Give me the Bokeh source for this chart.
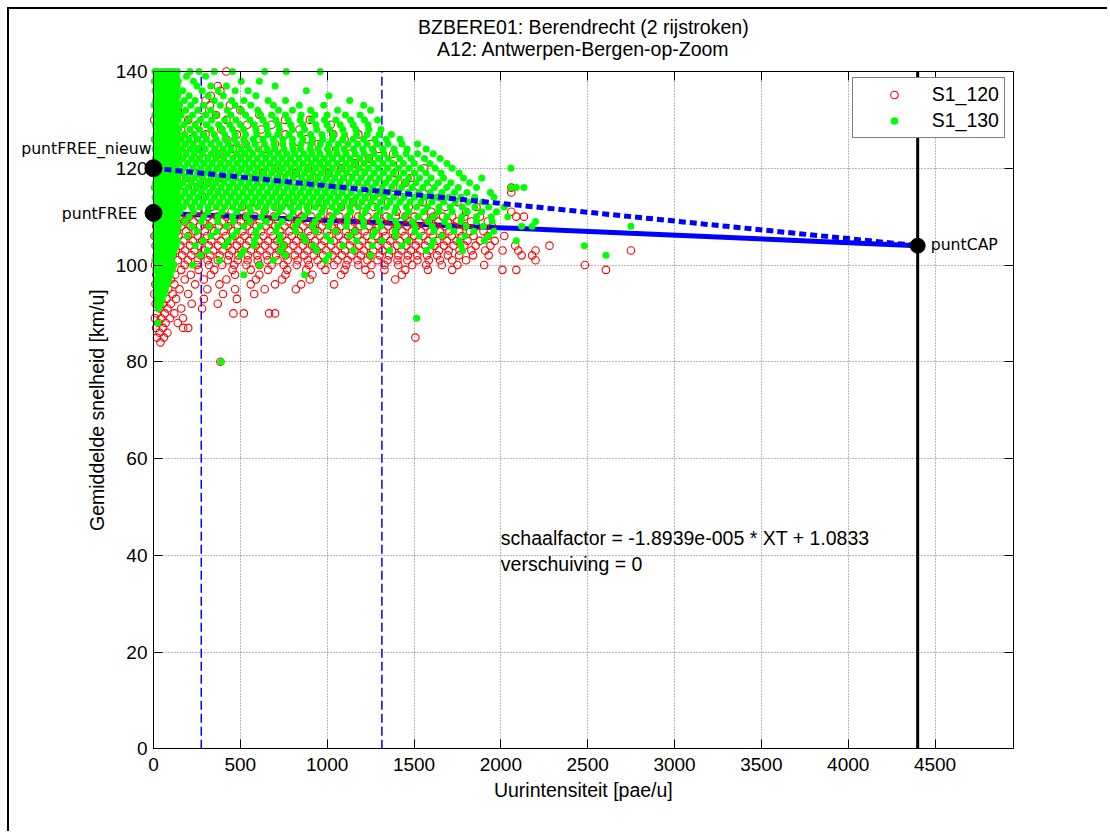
from bokeh.plotting import figure
from bokeh.models import (Range1d, LinearAxis, FixedTicker, Label, Legend,
                          LegendItem, CustomJSTickFormatter, BoxAnnotation)
from bokeh.core.properties import value
from bokeh.embed import file_html
from bokeh.resources import INLINE

# ---------------- texts / axes ----------------
title_line1 = "BZBERE01: Berendrecht (2 rijstroken)"
title_line2 = "A12: Antwerpen-Bergen-op-Zoom"
x_label = "Uurintensiteit [pae/u]"
y_label = "Gemiddelde snelheid [km/u]"
x_ticks = [0, 500, 1000, 1500, 2000, 2500, 3000, 3500, 4000, 4500]
y_ticks = [0, 20, 40, 60, 80, 100, 120, 140]
x_limits = (0, 4950)
y_limits = (0, 140)

# ---------------- key points ----------------
free_speed = 110.77        # puntFREE
free_new_speed = 120.0     # puntFREE_nieuw
cap_flow = 4400            # puntCAP
cap_speed = 104.0
band_flows = [275, 1315]   # dashed vertical lines
formula_x = 2000
formula_y = 40
formula_lines = ["schaalfactor = -1.8939e-005 * XT + 1.0833", "verschuiving = 0"]

# ---------------- S1_120 (red circles): (speed, [flows]) ----------------
s120_rows = [
    (140, [419]),
    (137, [370, 129]),
    (136, [95, 385]),
    (135, [60, 130, 330]),
    (134, [40, 110, 300]),
    (133, [20, 90, 325, 440]),
    (132, [75, 140, 280, 500]),
    (131, [30, 120, 360, 610]),
    (130, [4, 55, 200, 420, 757, 900]),
    (129, [15, 100, 250, 540, 680, 1020]),
    (128, [70, 160, 390, 620, 840]),
    (127, [35, 130, 300, 480, 760, 1035, 1180]),
    (126, [10, 90, 215, 420, 600, 880, 1100]),
    (125, [60, 145, 350, 530, 700, 950, 1250]),
    (124, [25, 110, 270, 455, 640, 820, 1010, 1300]),
    (123, [80, 180, 380, 560, 740, 930, 1130, 1380]),
    (122, [45, 130, 300, 490, 660, 860, 1060, 1240]),
    (121, [15, 100, 230, 410, 590, 780, 970, 1160, 1420]),
    (120, [65, 150, 340, 520, 700, 890, 1080, 1270, 1559]),
    (119, [30, 120, 260, 450, 630, 820, 1010, 1200, 1390]),
    (118, [85, 190, 380, 560, 750, 940, 1130, 1330, 1480]),
    (117, [50, 140, 310, 490, 680, 870, 1060, 1250, 1450]),
    (116, [20, 105, 240, 420, 610, 800, 990, 1180, 1380, 1580, 2060]),
    (115, [70, 170, 360, 540, 730, 920, 1110, 1300, 1500, 2060]),
    (114, [35, 125, 290, 470, 660, 850, 1040, 1230, 1430, 1650]),
    (113, [90, 210, 400, 580, 770, 960, 1150, 1350, 1550, 1750]),
    (112, [55, 145, 330, 510, 700, 890, 1080, 1270, 1470, 1680, 1860]),
    (111, [20, 110, 260, 450, 640, 830, 1020, 1210, 1400, 1600, 1800, 2060]),
    (110, [8, 52, 97, 150, 205, 258, 312, 367, 420, 476, 529, 584, 637, 692, 745, 801,
           853, 908, 962, 1016, 1071, 1124, 1179, 1232, 1287, 1341, 1396, 1449, 1503,
           1558, 1612, 1667, 1720, 1790, 1880, 2089, 2133]),
    (109, [30, 75, 122, 178, 231, 286, 339, 394, 448, 503, 556, 611, 664, 719, 773, 827,
           881, 935, 989, 1044, 1097, 1152, 1206, 1260, 1314, 1368, 1423, 1477, 1531,
           1585, 1640, 1694, 1748, 1830, 1925]),
    (108, [15, 60, 105, 160, 213, 268, 321, 376, 430, 485, 538, 593, 646, 701, 755, 809,
           863, 917, 971, 1026, 1080, 1134, 1188, 1242, 1296, 1351, 1405, 1459, 1513,
           1568, 1622, 1676, 1731, 1795, 1860, 1950]),
    (107, [38, 84, 135, 188, 242, 295, 350, 404, 458, 512, 566, 620, 675, 729, 783, 837,
           891, 945, 1000, 1054, 1108, 1162, 1216, 1270, 1324, 1379, 1433, 1487, 1541,
           1595, 1650, 1704, 1760, 1822, 1900]),
    (106, [5, 48, 95, 145, 200, 255, 308, 362, 416, 470, 525, 579, 633, 687, 741, 796,
           850, 904, 958, 1012, 1067, 1121, 1175, 1229, 1283, 1337, 1392, 1446, 1500,
           1554, 1608, 1663, 1717, 1775, 1843, 1925, 2020]),
    (105, [25, 70, 118, 172, 226, 280, 334, 388, 442, 497, 551, 605, 659, 713, 767, 822,
           876, 930, 984, 1038, 1093, 1147, 1201, 1255, 1309, 1363, 1418, 1472, 1526,
           1580, 1634, 1689, 1745, 1808, 1880, 1965]),
    (104, [12, 55, 102, 155, 210, 264, 318, 372, 426, 480, 535, 589, 643, 697, 751, 806,
           860, 914, 968, 1022, 1077, 1131, 1185, 1239, 1293, 1347, 1402, 1456, 1510,
           1564, 1618, 1673, 1727, 1790, 1855, 1940, 2083, 2280]),
    (103, [33, 80, 128, 182, 236, 290, 344, 398, 452, 507, 561, 615, 669, 723, 777, 832,
           886, 940, 994, 1048, 1103, 1157, 1211, 1265, 1319, 1373, 1428, 1482, 1536,
           1590, 1644, 1700, 1762, 1830, 1910, 2010, 2100, 2200, 2749]),
    (102, [18, 62, 110, 165, 218, 272, 327, 381, 435, 489, 543, 598, 652, 706, 760, 814,
           869, 923, 977, 1031, 1085, 1140, 1194, 1248, 1302, 1356, 1410, 1465, 1519,
           1575, 1633, 1695, 1760, 1840, 1930, 2120, 2180]),
    (101, [40, 88, 140, 198, 255, 312, 370, 428, 485, 542, 600, 658, 715, 772, 830, 888,
           945, 1002, 1060, 1118, 1175, 1232, 1290, 1348, 1405, 1462, 1520, 1585, 1650,
           1720, 1800, 2200]),
    (100, [8, 55, 112, 180, 250, 320, 395, 465, 535, 610, 680, 750, 825, 895, 965, 1040,
           1110, 1180, 1255, 1330, 1410, 1490, 1570, 1660, 1750, 1904, 2484]),
    (99, [30, 90, 160, 260, 350, 455, 560, 660, 770, 880, 990, 1100, 1220, 1330, 1450,
          1580, 1720, 2009, 2089, 2605]),
    (98, [15, 70, 125, 215, 330, 470, 610, 760, 915, 1080, 1250, 1430]),
    (97, [40, 100, 180, 290, 420, 590, 740, 900, 1392]),
    (96, [10, 60, 120, 240, 380, 560, 700, 850, 1040]),
    (95, [30, 85, 150, 310, 470, 640, 820]),
    (94, [5, 50, 110, 200, 400, 580]),
    (93, [25, 75, 130, 290, 480]),
    (92, [12, 55, 100, 220, 370]),
    (91, [35, 80, 160, 280]),
    (90, [20, 65, 120, 460, 520, 666, 700]),
    (89, [8, 45, 95, 170]),
    (88, [28, 70, 140]),
    (87, [15, 55, 171, 200]),
    (86, [35, 80]),
    (85, [20, 60, 1508]),
    (84, [40]),
    (80, [385]),
]

# ---------------- S1_130 (green dots): (speed, [flows]) ----------------
s130_rows = [
    (140, [8, 27, 52, 74, 96, 118, 138, 210, 262, 350, 455, 640, 765, 960]),
    (139, [15, 38, 61, 85, 110, 132, 190, 300]),
    (138, [5, 28, 50, 72, 97, 121, 143, 230, 505, 610]),
    (137, [18, 41, 66, 88, 113, 136, 250, 330, 420, 700]),
    (136, [9, 33, 57, 80, 104, 127, 168, 280, 372, 470, 545, 880]),
    (135, [22, 45, 70, 92, 116, 140, 205, 315, 402, 590, 1010]),
    (134, [12, 36, 60, 83, 107, 130, 178, 240, 350, 450, 520, 660, 760, 1130]),
    (133, [4, 27, 51, 75, 98, 122, 150, 215, 290, 385, 470, 560, 690, 840, 980, 1210]),
    (132, [17, 42, 66, 90, 113, 138, 185, 255, 330, 425, 505, 600, 720, 800, 905, 1060, 1250]),
    (131, [8, 31, 55, 79, 103, 127, 160, 225, 300, 360, 445, 530, 615, 680, 760, 850, 930,
           1000, 1105, 1190]),
    (130, [20, 44, 68, 92, 117, 141, 200, 270, 335, 410, 475, 555, 630, 705, 775, 845, 910,
           985, 1050, 1135, 1215, 1290]),
    (129, [10, 34, 58, 82, 106, 130, 175, 240, 305, 375, 440, 500, 580, 650, 720, 790, 860,
           935, 1000, 1075, 1150, 1235]),
    (128, [24, 48, 72, 95, 120, 145, 210, 265, 330, 395, 455, 520, 590, 655, 725, 800, 870,
           940, 1015, 1090, 1165, 1240, 1310]),
    (127, [14, 38, 62, 86, 110, 134, 180, 235, 290, 350, 410, 470, 530, 595, 660, 715, 780,
           845, 905, 970, 1035, 1100, 1170, 1230, 1300, 1370]),
    (126, [5, 28, 52, 76, 100, 124, 160, 205, 255, 305, 360, 415, 465, 520, 575, 630, 690,
           745, 800, 860, 915, 975, 1030, 1090, 1150, 1210, 1275, 1340, 1420]),
    (125, [18, 42, 66, 90, 114, 138, 185, 230, 280, 330, 380, 430, 480, 535, 585, 640, 695,
           745, 800, 850, 905, 960, 1010, 1065, 1120, 1175, 1230, 1290, 1350, 1430, 1520]),
    (124, [9, 33, 57, 81, 105, 129, 165, 212, 253, 298, 352, 401, 447, 503, 548, 602, 655,
           697, 751, 804, 846, 903, 948, 1002, 1051, 1098, 1152, 1205, 1260, 1320, 1385,
           1460, 1570]),
    (123, [22, 46, 70, 94, 118, 142, 188, 236, 281, 333, 377, 426, 478, 524, 571, 623, 668,
           719, 767, 812, 866, 911, 958, 1012, 1057, 1108, 1161, 1214, 1268, 1327, 1392,
           1455, 1520, 1610]),
    (122, [11, 35, 59, 83, 107, 131, 171, 219, 263, 312, 359, 404, 457, 503, 549, 598, 646,
           694, 742, 789, 838, 887, 934, 983, 1031, 1084, 1133, 1187, 1241, 1296, 1352,
           1418, 1483, 1560, 1650]),
    (121, [3, 27, 51, 75, 99, 123, 147, 196, 244, 292, 338, 386, 433, 481, 527, 575, 622,
           671, 718, 766, 813, 861, 909, 957, 1006, 1056, 1109, 1158, 1212, 1266, 1321,
           1378, 1439, 1502, 1591, 1690]),
    (120, [16, 40, 64, 88, 112, 136, 178, 226, 272, 318, 366, 412, 460, 506, 553, 601, 649,
           696, 744, 791, 839, 886, 934, 981, 1030, 1081, 1131, 1184, 1238, 1293, 1348,
           1409, 1471, 1538, 1622, 1720, 2058]),
    (119, [7, 31, 55, 79, 103, 127, 162, 208, 256, 301, 349, 396, 443, 491, 538, 585, 633,
           680, 727, 775, 822, 870, 917, 965, 1013, 1062, 1112, 1163, 1216, 1270, 1324,
           1381, 1440, 1503, 1569, 1655, 1760]),
    (118, [20, 44, 68, 92, 116, 140, 189, 236, 283, 331, 378, 425, 473, 520, 567, 615, 662,
           709, 757, 804, 852, 899, 947, 995, 1043, 1093, 1144, 1195, 1249, 1301, 1356,
           1412, 1470, 1532, 1598, 1670, 1785, 1890]),
    (117, [12, 36, 60, 84, 108, 132, 170, 218, 266, 313, 360, 408, 455, 503, 550, 597, 645,
           692, 740, 787, 835, 882, 930, 978, 1026, 1075, 1125, 1177, 1229, 1282, 1337,
           1392, 1450, 1511, 1575, 1640, 1712, 1820]),
    (116, [4, 28, 52, 76, 100, 124, 150, 199, 247, 294, 342, 389, 437, 484, 531, 579, 626,
           674, 721, 769, 816, 864, 911, 959, 1007, 1056, 1106, 1157, 1210, 1263, 1317,
           1372, 1429, 1489, 1551, 1617, 1688, 1755, 1860, 2058, 2089, 2133]),
    (115, [17, 41, 65, 89, 113, 137, 181, 229, 276, 324, 371, 419, 466, 514, 561, 608, 656,
           703, 751, 798, 846, 893, 941, 989, 1038, 1087, 1138, 1190, 1243, 1296, 1351,
           1408, 1466, 1527, 1592, 1661, 1733, 1805, 1940]),
    (114, [9, 33, 57, 81, 105, 129, 160, 208, 256, 303, 351, 398, 446, 493, 540, 588, 635,
           683, 730, 778, 825, 873, 920, 968, 1016, 1065, 1116, 1167, 1220, 1273, 1328,
           1384, 1442, 1503, 1566, 1632, 1700, 1770, 1850, 1960]),
    (113, [22, 46, 70, 94, 118, 142, 190, 238, 285, 333, 380, 428, 475, 522, 570, 617, 665,
           712, 760, 807, 855, 902, 950, 998, 1047, 1097, 1148, 1200, 1253, 1307, 1362,
           1419, 1478, 1539, 1603, 1670, 1738, 1812, 1895]),
    (112, [13, 37, 61, 85, 109, 133, 172, 220, 267, 315, 362, 410, 457, 505, 552, 600, 647,
           694, 742, 789, 837, 884, 932, 980, 1029, 1078, 1129, 1180, 1233, 1287, 1341,
           1397, 1455, 1515, 1578, 1643, 1709, 1778, 1850, 1930, 2020]),
    (111, [5, 29, 53, 77, 101, 125, 151, 230, 315, 395, 480, 560, 640, 725, 805, 890, 970,
           1055, 1135, 1220, 1305, 1390, 1470, 1555, 1640, 1720, 1805, 1890, 1975]),
    (110, [18, 42, 66, 90, 114, 138, 205, 290, 370, 455, 535, 620, 700, 785, 865, 950, 1030,
           1115, 1195, 1280, 1360, 1445, 1525, 1610, 1690, 1775, 1860, 1945, 2040]),
    (109, [10, 34, 58, 82, 106, 130, 180, 275, 370, 460, 555, 650, 740, 835, 930, 1020,
           1115, 1210, 1300, 1395, 1490, 1580, 1675, 1770, 1860, 1950, 2200]),
    (108, [23, 47, 71, 95, 119, 143, 220, 320, 420, 520, 615, 715, 815, 915, 1010, 1110,
           1210, 1310, 1405, 1505, 1605, 1700, 1800, 1900, 2120, 2180, 2749]),
    (107, [14, 38, 62, 86, 110, 134, 250, 365, 480, 590, 705, 820, 935, 1050, 1160, 1275,
           1390, 1505, 1615, 1730, 1845, 1960]),
    (106, [6, 30, 54, 78, 102, 126, 195, 330, 460, 595, 730, 860, 995, 1130, 1260, 1395,
           1530, 1660, 1795, 1930]),
    (105, [19, 43, 67, 91, 115, 139, 285, 430, 580, 725, 875, 1020, 1170, 1315, 1465, 1610,
           1760, 1905, 2089]),
    (104, [11, 35, 59, 83, 107, 131, 240, 410, 580, 750, 920, 1090, 1260, 1430, 1600, 1770,
           2481]),
    (103, [24, 48, 72, 96, 120, 310, 520, 730, 940, 1150, 1360, 1570, 1780]),
    (102, [15, 39, 63, 87, 111, 270, 500, 760, 1010, 1250, 2605]),
    (101, [7, 31, 55, 79, 103, 380, 690, 990]),
    (100, [20, 44, 68, 92, 116, 225, 610]),
    (99, [12, 36, 60, 84, 108]),
    (98, [25, 49, 73, 97, 520, 870]),
    (97, [16, 40, 64, 88]),
    (96, [8, 32, 56, 80]),
    (95, [21, 45, 69]),
    (94, [13, 37, 61]),
    (93, [26, 50]),
    (92, [18, 42]),
    (91, [30]),
    (89, [1515]),
    (88, [25]),
    (80, [390]),
]

s120_flow = [f for s, fl in s120_rows for f in fl]
s120_speed = [s for s, fl in s120_rows for f in fl]
s130_flow = [f for s, fl in s130_rows for f in fl]
s130_speed = [s for s, fl in s130_rows for f in fl]

FONT = "Liberation Sans"
PFONT = "DejaVu Sans"

# ---------------- layout constants (page pixels) ----------------
canvas_left, canvas_top = 10.3, 9.7
canvas_w, canvas_h = 1100, 824
area_left, area_right = 154.3, 1014.0     # where x = 0 and x = 4950 sit
area_top, area_bottom = 71.7, 749.0       # where y = 140 and y = 0 sit
px_x = (area_right - area_left) / (x_limits[1] - x_limits[0])
px_y = (area_bottom - area_top) / (y_limits[1] - y_limits[0])
x_start = x_limits[0] - (area_left - canvas_left) / px_x
x_end = x_limits[1] + (canvas_left + canvas_w - area_right) / px_x
y_start = y_limits[0] - (canvas_top + canvas_h - area_bottom) / px_y
y_end = y_limits[1] + (area_top - canvas_top) / px_y

p = figure(width=canvas_w, height=canvas_h, output_backend="svg",
           toolbar_location=None,
           x_range=Range1d(x_start, x_end), y_range=Range1d(y_start, y_end),
           min_border=0, min_border_left=0, min_border_right=0,
           min_border_top=0, min_border_bottom=0)
p.styles = {"border-left": "2px solid black", "border-top": "2px solid black",
            "margin-left": "7px", "margin-top": "7px"}
p.background_fill_color = "white"
p.border_fill_color = "white"
p.outline_line_color = None

# axes (all placed at the data limits inside the frame)
xa = p.xaxis[0]
ya = p.yaxis[0]
xa.ticker = FixedTicker(ticks=x_ticks)
ya.ticker = FixedTicker(ticks=y_ticks)
xa.bounds = x_limits
ya.bounds = y_limits
xa.fixed_location = y_limits[0]
ya.fixed_location = x_limits[0]
for ax in (xa, ya):
    ax.major_tick_in = 9
    ax.major_tick_out = 0
    ax.minor_tick_in = 0
    ax.minor_tick_out = 0
    ax.axis_line_color = "black"
    ax.major_tick_line_color = "black"
    ax.major_label_text_font = FONT
    ax.major_label_text_font_size = "19px"
    ax.major_label_text_color = "black"
xa.major_label_standoff = 9
ya.major_label_standoff = 6

blank = CustomJSTickFormatter(code="return ''")
rax = LinearAxis(ticker=FixedTicker(ticks=y_ticks), formatter=blank, bounds=y_limits,
                 fixed_location=x_limits[1],
                 major_tick_in=9, major_tick_out=0, minor_tick_in=0,
                 minor_tick_out=0, major_label_standoff=0,
                 axis_line_color="black", major_tick_line_color="black")
p.add_layout(rax, "right")
tax = LinearAxis(ticker=FixedTicker(ticks=x_ticks), formatter=blank, bounds=x_limits,
                 fixed_location=y_limits[1],
                 major_tick_in=9, major_tick_out=0, minor_tick_in=0,
                 minor_tick_out=0, major_label_standoff=0,
                 axis_line_color="black", major_tick_line_color="black")
p.add_layout(tax, "above")

# grid
p.grid.grid_line_color = "black"
p.grid.grid_line_alpha = 0.55
p.grid.grid_line_dash = "1 2"
p.xgrid.ticker = FixedTicker(ticks=x_ticks)
p.ygrid.ticker = FixedTicker(ticks=y_ticks)
p.xgrid.cross_bounds = y_limits
p.ygrid.cross_bounds = x_limits

x_mid = (x_limits[0] + x_limits[1]) / 2
y_mid = (y_limits[0] + y_limits[1]) / 2

# titles and axis labels
p.add_layout(Label(x=x_mid, y=y_limits[1], text=title_line1, text_align="center",
                   text_baseline="middle", y_offset=44.7, text_font=FONT,
                   text_font_size="19.5px", text_color="black"))
p.add_layout(Label(x=x_mid, y=y_limits[1], text=title_line2, text_align="center",
                   text_baseline="middle", y_offset=22.7, text_font=FONT,
                   text_font_size="19.5px", text_color="black"))
p.add_layout(Label(x=x_mid, y=y_limits[0], text=x_label, text_align="center",
                   text_baseline="middle", y_offset=-41, text_font=FONT,
                   text_font_size="19.5px", text_color="black"))
p.add_layout(Label(x=x_limits[0], y=y_mid, text=y_label, angle=90, angle_units="deg",
                   text_align="center", text_baseline="middle", x_offset=-57,
                   text_font=FONT, text_font_size="19.5px", text_color="black"))

# dashed vertical band lines (under the scatter)
p.segment(x0=band_flows, y0=[y_limits[0]] * len(band_flows), x1=band_flows,
          y1=[y_limits[1]] * len(band_flows), line_color="#0000ff",
          line_width=1.5, line_dash="9 4")

# solid blue line puntFREE -> puntCAP (under the scatter)
p.line(x=[0, cap_flow], y=[free_speed, cap_speed], line_color="#0000ff", line_width=5)

r120 = p.scatter(x=s120_flow, y=s120_speed, marker="circle", size=7.5,
                 fill_color=None, line_color="#ff0000", line_width=1.1)
r130 = p.scatter(x=s130_flow, y=s130_speed, marker="circle", size=7,
                 fill_color="#00ff00", line_color=None)

# dashed blue line puntFREE_nieuw -> puntCAP
p.line(x=[0, cap_flow], y=[free_new_speed, cap_speed], line_color="#0000ff",
       line_width=5, line_dash="7 4")

# capacity vertical line
p.segment(x0=[cap_flow], y0=[y_limits[0]], x1=[cap_flow], y1=[y_limits[1]],
          line_color="black", line_width=3)

# key points
p.scatter(x=[0, 0], y=[free_new_speed, free_speed], marker="circle", size=17,
          fill_color="black", line_color="black")
p.scatter(x=[cap_flow], y=[cap_speed], marker="circle", size=15,
          fill_color="black", line_color="black")

p.add_layout(Label(x=0, y=free_new_speed, text="puntFREE_nieuw", text_align="right",
                   text_baseline="middle", x_offset=-2, y_offset=20,
                   text_font=PFONT, text_font_size="15.7px", text_color="black"))
p.add_layout(Label(x=0, y=free_speed, text="puntFREE", text_align="right",
                   text_baseline="middle", x_offset=-16, y_offset=-1,
                   text_font=PFONT, text_font_size="15.7px", text_color="black"))
p.add_layout(Label(x=cap_flow, y=cap_speed, text="puntCAP", text_align="left",
                   text_baseline="middle", x_offset=13, y_offset=1,
                   text_font=PFONT, text_font_size="15.7px", text_color="black"))

# formula text
p.add_layout(Label(x=formula_x, y=formula_y, text=formula_lines[0], text_align="left",
                   text_baseline="middle", y_offset=17, text_font=FONT,
                   text_font_size="19.5px", text_color="black"))
p.add_layout(Label(x=formula_x, y=formula_y, text=formula_lines[1], text_align="left",
                   text_baseline="middle", y_offset=-9, text_font=FONT,
                   text_font_size="19.5px", text_color="black"))

# legend
legend = Legend(items=[LegendItem(label=value("S1_120"), renderers=[r120]),
                       LegendItem(label=value("S1_130"), renderers=[r130])],
                location=(853 - canvas_left, canvas_top + canvas_h - 139),
                orientation="vertical",
                border_line_color="black", border_line_width=1,
                background_fill_color="white", background_fill_alpha=1,
                label_text_font=FONT, label_text_font_size="19.5px",
                label_text_color="black", padding=5, spacing=3,
                glyph_width=72, glyph_height=19, label_height=19,
                label_standoff=2, margin=0)
p.add_layout(legend)

open("out.html", "w").write(file_html(p, INLINE))
